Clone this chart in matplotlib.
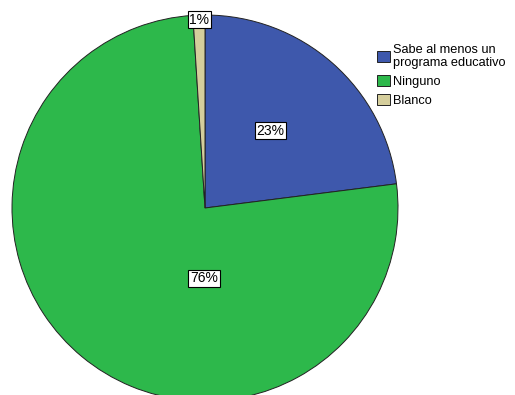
import matplotlib
matplotlib.use("Agg")
import matplotlib.pyplot as plt

categories = ["Sabe al menos un\nprograma educativo", "Ninguno", "Blanco"]
values = [23, 76, 1]
pct_labels = ["23%", "76%", "1%"]
colors = ["#3E58AC", "#2DB84B", "#D5CE9C"]

plt.rcParams['font.family'] = ['Liberation Sans', 'DejaVu Sans']

W, H = 515, 395
fig = plt.figure(figsize=(W / 100, H / 100), dpi=100)
ax = fig.add_axes([0, 0, 1, 1])

R = 193.0
cx, cy = 205.0, 208.0  # pixel center (y from top)

wedges, _ = ax.pie(values, colors=colors, startangle=90, counterclock=False,
                   radius=1.0, center=(0, 0),
                   wedgeprops=dict(edgecolor="#222222", linewidth=0.7))
ax.set_xlim(-cx / R, (W - cx) / R)
ax.set_ylim(-(H - cy) / R, cy / R)
ax.set_aspect('auto')
ax.axis('off')

label_pos = [(0.34, 0.40), (-0.005, -0.365), (-0.03, 0.975)]
for (x, y), t in zip(label_pos, pct_labels):
    ax.text(x, y, t, ha='center', va='center', fontsize=10, color='black',
            bbox=dict(boxstyle='square,pad=0.12', facecolor='white',
                      edgecolor='black', linewidth=0.8))

leg = fig.legend(wedges, categories, loc='upper left',
                 bbox_to_anchor=(372 / W, 1 - 39 / H), frameon=False,
                 fontsize=9.2, handlelength=1.0, handleheight=1.0,
                 handletextpad=0.28, labelspacing=0.47, borderaxespad=0)
for t in leg.get_texts():
    t.set_linespacing(1.05)

fig.savefig("out.png", dpi=100)
